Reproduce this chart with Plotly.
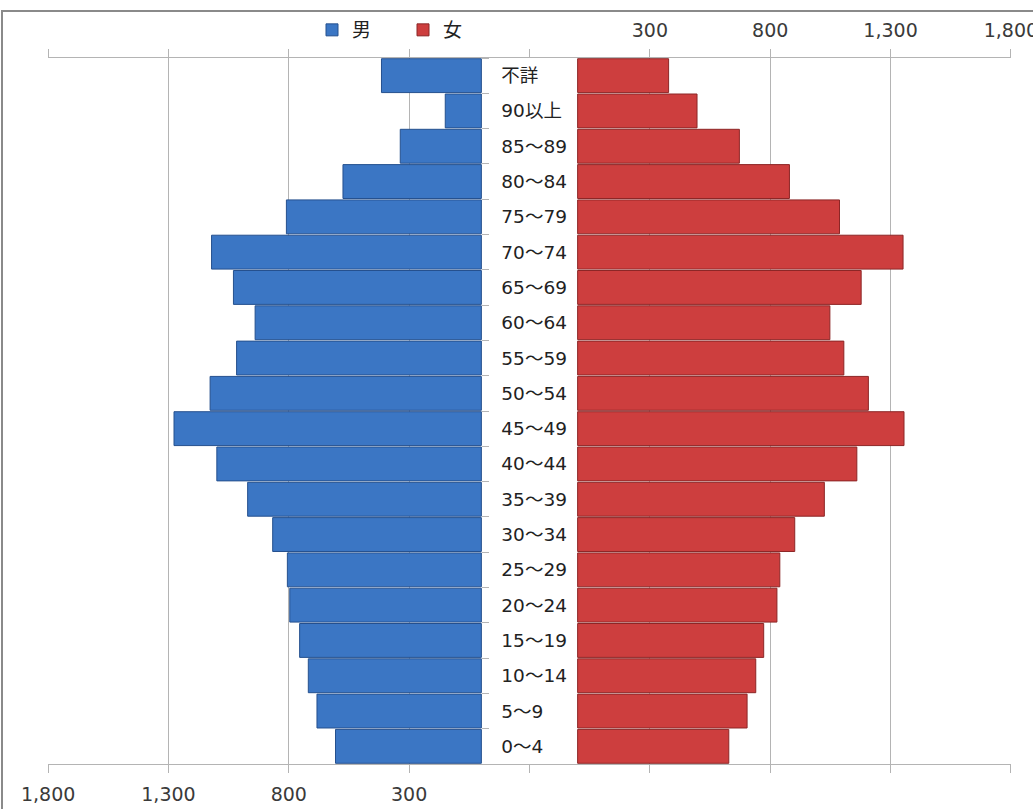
import plotly.graph_objects as go

# Data
age_groups = ["不詳", "90以上", "85～89", "80～84", "75～79", "70～74", "65～69",
              "60～64", "55～59", "50～54", "45～49", "40～44", "35～39", "30～34",
              "25～29", "20～24", "15～19", "10～14", "5～9", "0～4"]
male = [415, 150, 337, 575, 810, 1121, 1030, 940, 1017, 1127,
        1277, 1099, 971, 867, 806, 796, 755, 719, 683, 606]
female = [378, 496, 672, 880, 1088, 1352, 1178, 1048, 1106, 1208,
          1356, 1160, 1025, 902, 840, 828, 773, 740, 704, 628]

tick_vals = [-200, 300, 800, 1300, 1800]
tick_text = ["", "300", "800", "1,300", "1,800"]

FONT = "DejaVu Sans, Noto Sans CJK JP, sans-serif"
GRID = "#b4b4b4"

fig = go.Figure()
fig.add_trace(go.Bar(
    x=male, y=age_groups, orientation="h", name="男",
    xaxis="x", yaxis="y",
    marker=dict(color="#3b76c4", line=dict(color="#25508e", width=1)),
))
fig.add_trace(go.Bar(
    x=female, y=age_groups, orientation="h", name="女",
    xaxis="x2", yaxis="y",
    marker=dict(color="#cd3e3e", line=dict(color="#8c2626", width=1)),
))

axis_common = dict(
    tickvals=tick_vals, ticktext=tick_text,
    showgrid=True, gridcolor=GRID, gridwidth=1,
    showline=True, linecolor=GRID, linewidth=1, mirror="ticks",
    ticks="outside", ticklen=8, tickcolor=GRID,
    zeroline=False, automargin=False, ticklabeloverflow="allow",
    tickfont=dict(family=FONT, size=19, color="#3a3a3a"),
)

fig.update_layout(
    width=1033, height=809,
    margin=dict(l=48, r=22, t=57, b=45),
    paper_bgcolor="white", plot_bgcolor="white",
    font=dict(family=FONT, color="#222"),
    bargap=0.04,
    xaxis=dict(domain=[0, 0.5], range=[1800.5, -200], side="bottom", anchor="y",
               ticklabelstandoff=5, **axis_common),
    xaxis2=dict(domain=[0.5, 1], range=[-200, 1800.5], side="top", anchor="y",
                ticklabelstandoff=4, **axis_common),
    yaxis=dict(
        categoryorder="array", categoryarray=age_groups, autorange="reversed",
        anchor="free", position=0.45, side="right",
        showgrid=False, zeroline=False, showline=False, automargin=False,
        ticks="outside", ticklen=7, tickcolor=GRID, tickson="boundaries",
        ticklabelstandoff=19,
        tickfont=dict(family=FONT, size=18.5, color="#222"),
    ),
    showlegend=True,
    legend=dict(
        orientation="h", x=(312 - 48) / 963, y=(764 - 30) / 707,
        xanchor="left", yanchor="middle",
        font=dict(family=FONT, size=19, color="#222"),
        itemwidth=30, entrywidth=46, bgcolor="rgba(0,0,0,0)",
    ),
    shapes=[dict(
        type="rect", xref="paper", yref="paper",
        x0=(2 - 48) / 963, x1=(1045 - 48) / 963,
        y0=(764 - 820) / 707, y1=(764 - 10) / 707,
        line=dict(color="#8a8a8a", width=2), layer="below",
    )],
)

fig.write_html("out.html")
